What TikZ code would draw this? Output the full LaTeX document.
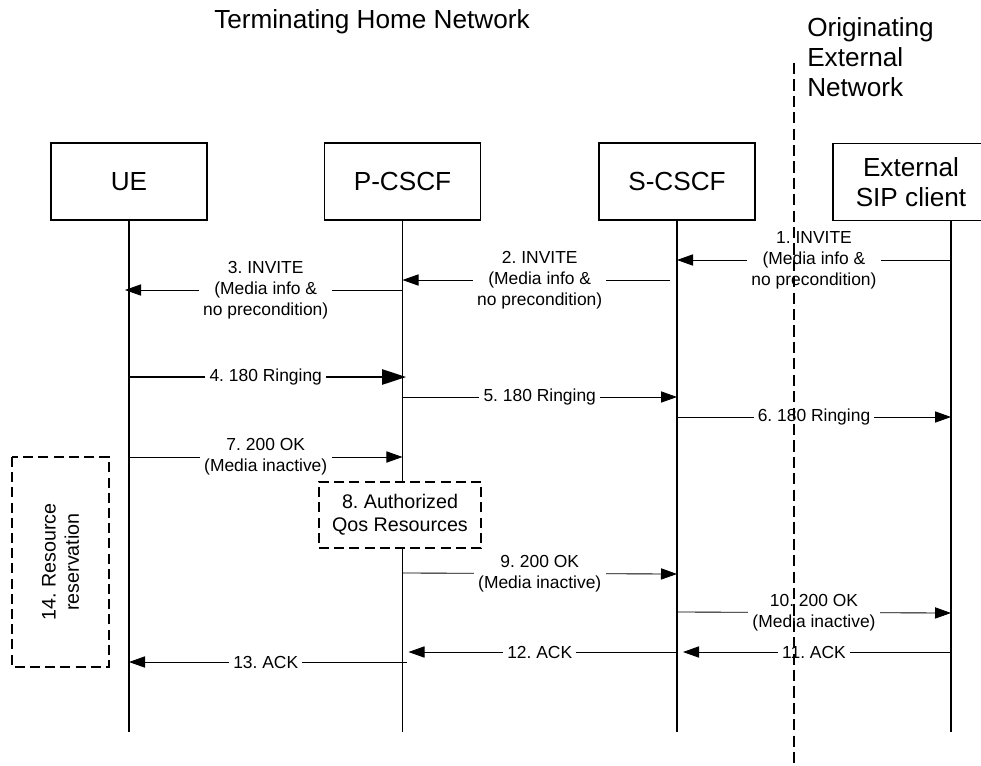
\documentclass[tikz,border=0pt]{standalone}
\usepackage{fontspec}
\setmainfont{Liberation Sans}
\usetikzlibrary{arrows.meta}
\frenchspacing
\newcommand{\bigtxt}{\fontsize{18.6}{21.3}\selectfont}
\newcommand{\msgtxt}{\fontsize{12.4}{14.9}\selectfont}
\newcommand{\notetxt}{\fontsize{14}{16.5}\selectfont}
\tikzset{entity/.style={rectangle,draw,line width=0.9pt,fill=white,minimum width=3.9cm,minimum height=1.925cm,align=center,font=\bigtxt,inner sep=0pt},lifeline/.style={draw,line width=1pt},msg/.style={draw,line width=0.6pt,-{Triangle[length=0.4cm,width=0.28cm]}},boldmsg/.style={draw,line width=1.3pt,-{Triangle[length=0.6cm,width=0.38cm]}},msglabel/.style={fill=white,font=\msgtxt,align=center,inner xsep=3pt,inner ysep=1pt},notebox/.style={rectangle,draw,line width=0.9pt,dash pattern=on 0.25cm off 0.13cm,fill=white,font=\notetxt,align=center},divider/.style={draw,line width=0.9pt,dash pattern=on 0.28cm off 0.13cm}}

\begin{document}
\begin{tikzpicture}[x=0.025cm,y=-0.025cm]
\useasboundingbox (0,0) rectangle (981,765);
\clip (0,0) rectangle (981,765);
\node[font=\bigtxt,inner sep=0pt] (title) at (372,22) {Terminating Home Network};
\node[font=\bigtxt,inner sep=0pt,align=left,anchor=west] (orig) at (807,57) {Originating\\External\\Network};
\node[entity] (ue) at (129,181.5) {UE};\node[entity] (pc) at (402.5,181.5) {P-CSCF};\node[entity] (sc) at (677,181.5) {S-CSCF};\node[entity] (ext) at (911,182) {External\\SIP client};
\coordinate (extlife) at ([xshift=1cm]ext.south);
\draw[lifeline] (ue.south) -- (ue |- 0,732);\draw[lifeline] (pc.south) -- (pc |- 0,732);\draw[lifeline] (sc.south) -- (sc |- 0,732);\draw[lifeline] (extlife) -- (extlife |- 0,732);
\node[notebox,minimum width=4.05cm,minimum height=1.65cm] (qos) at (400,515) {8. Authorized\\Qos Resources};
\draw[msg] (extlife |- 0,260) -- node[msglabel] {1. INVITE\\(Media info \&\\no precondition)} (sc |- 0,260);
\draw[msg,shorten <=0.175cm] (sc |- 0,280) -- node[msglabel] {2. INVITE\\(Media info \&\\no precondition)} (pc |- 0,280);
\draw[msg,shorten >=-0.1cm] (pc |- 0,290) -- node[msglabel] {3. INVITE\\(Media info \&\\no precondition)} (ue |- 0,290);
\draw[boldmsg,shorten >=-0.09cm] (ue |- 0,377) -- node[msglabel] {4. 180 Ringing} (pc |- 0,377);
\draw[msg] (pc |- 0,397) -- node[msglabel] {5. 180 Ringing} (sc |- 0,397);
\draw[msg] (sc |- 0,417) -- node[msglabel] {6. 180 Ringing} (extlife |- 0,417);
\draw[msg] (ue |- 0,457) -- node[msglabel] {7. 200 OK\\(Media inactive)} (pc |- 0,457);
\draw[msg] (pc |- 0,573) -- node[msglabel] {9. 200 OK\\(Media inactive)} (sc |- 0,574);
\draw[msg] (sc |- 0,612) -- node[msglabel] {10. 200 OK\\(Media inactive)} (extlife |- 0,613);
\draw[msg,shorten >=0.15cm] (extlife |- 0,652) -- node[msglabel] {11. ACK} (sc |- 0,652);
\draw[msg,shorten >=0.15cm] (sc |- 0,652) -- node[msglabel] {12. ACK} (pc |- 0,652);
\draw[msg,shorten <=-0.1cm] (pc |- 0,662) -- node[msglabel] {13. ACK} (ue |- 0,662);
\node[notebox,rotate=90,minimum width=5.25cm,minimum height=2.425cm] (resv) at (60.5,562) {14. Resource\\reservation};
\coordinate (divtop) at (794,63);\coordinate (divbot) at (794,765);
\draw[divider] (divtop) -- (divbot);
\end{tikzpicture}
\end{document}
